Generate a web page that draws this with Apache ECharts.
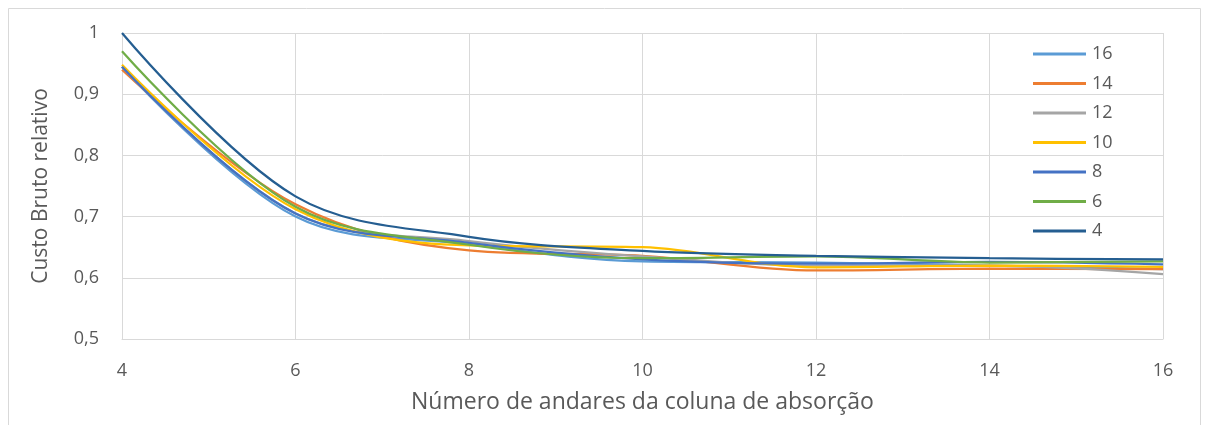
<!DOCTYPE html>
<html><head><meta charset="utf-8">
<script src="https://cdn.jsdelivr.net/npm/echarts@6/dist/echarts.min.js"></script>
<style>html,body{margin:0;padding:0;background:#fff}#c{width:1209px;height:425px}</style>
</head><body><div id="c"></div>
<script>
const xValues = [4, 6, 8, 10, 12, 14, 16];
const seriesNames = ['16', '14', '12', '10', '8', '6', '4'];
const s16 = [0.945, 0.700, 0.655, 0.627, 0.625, 0.620, 0.614];
const s14 = [0.940, 0.720, 0.645, 0.636, 0.612, 0.615, 0.614];
const s12 = [0.945, 0.705, 0.660, 0.635, 0.620, 0.620, 0.606];
const s10 = [0.948, 0.712, 0.653, 0.650, 0.617, 0.620, 0.618];
const s8  = [0.945, 0.705, 0.657, 0.630, 0.623, 0.626, 0.622];
const s6  = [0.970, 0.716, 0.654, 0.632, 0.635, 0.625, 0.627];
const s4  = [1.000, 0.733, 0.667, 0.644, 0.636, 0.632, 0.630];
const yTicks = ['0,5', '0,6', '0,7', '0,8', '0,9', '1'];
const xTitle = 'Número de andares da coluna de absorção';
const yTitle = 'Custo Bruto relativo';

const allData = [s16, s14, s12, s10, s8, s6, s4];
const colors = ['#5B9BD5', '#ED7D31', '#A5A5A5', '#FFC000', '#4472C4', '#70AD47', '#255E91'];
const font = 'Open Sans, Roboto, sans-serif';

const chart = echarts.init(document.getElementById('c'));
chart.setOption({
  animation: false,
  backgroundColor: '#fff',
  graphic: [{type: 'rect', shape: {x: 8.5, y: 8.5, width: 1192, height: 430}, style: {fill: 'none', stroke: '#d9d9d9', lineWidth: 1}, silent: true}],
  grid: {left: 122, right: 46, top: 33, bottom: 86},
  legend: {
    orient: 'vertical', left: 1028, top: 40,
    data: seriesNames,
    itemWidth: 53, itemHeight: 3, itemGap: 11.5,
    icon: 'rect',
    textStyle: {fontSize: 18, color: '#595959', fontFamily: font, padding: [0, 0, 0, 1]}
  },
  xAxis: {
    type: 'value', min: 4, max: 16, interval: 2,
    name: xTitle, nameLocation: 'middle', nameGap: 52,
    nameTextStyle: {fontSize: 23, color: '#595959', fontFamily: font},
    axisLine: {show: true, lineStyle: {color: '#d9d9d9', width: 1}},
    axisTick: {show: false},
    axisLabel: {fontSize: 18, color: '#595959', fontFamily: font, margin: 23},
    splitLine: {show: true, lineStyle: {color: '#d9d9d9', width: 1}}
  },
  yAxis: {
    type: 'value', min: 0.5, max: 1, interval: 0.1,
    name: yTitle, nameLocation: 'middle', nameGap: 70,
    nameTextStyle: {fontSize: 21, color: '#595959', fontFamily: font},
    axisLine: {show: false}, axisTick: {show: false},
    axisLabel: {fontSize: 18, color: '#595959', fontFamily: font, margin: 23,
      formatter: v => yTicks[Math.round((v - 0.5) * 10)]},
    splitLine: {show: true, lineStyle: {color: '#d9d9d9', width: 1}}
  },
  series: seriesNames.map((n, i) => ({
    name: n, type: 'line', smooth: 0.35, showSymbol: false, symbol: 'none',
    color: colors[i],
    lineStyle: {width: 2.25, color: colors[i]},
    data: xValues.map((x, j) => [x, allData[i][j]])
  }))
});
</script></body></html>
